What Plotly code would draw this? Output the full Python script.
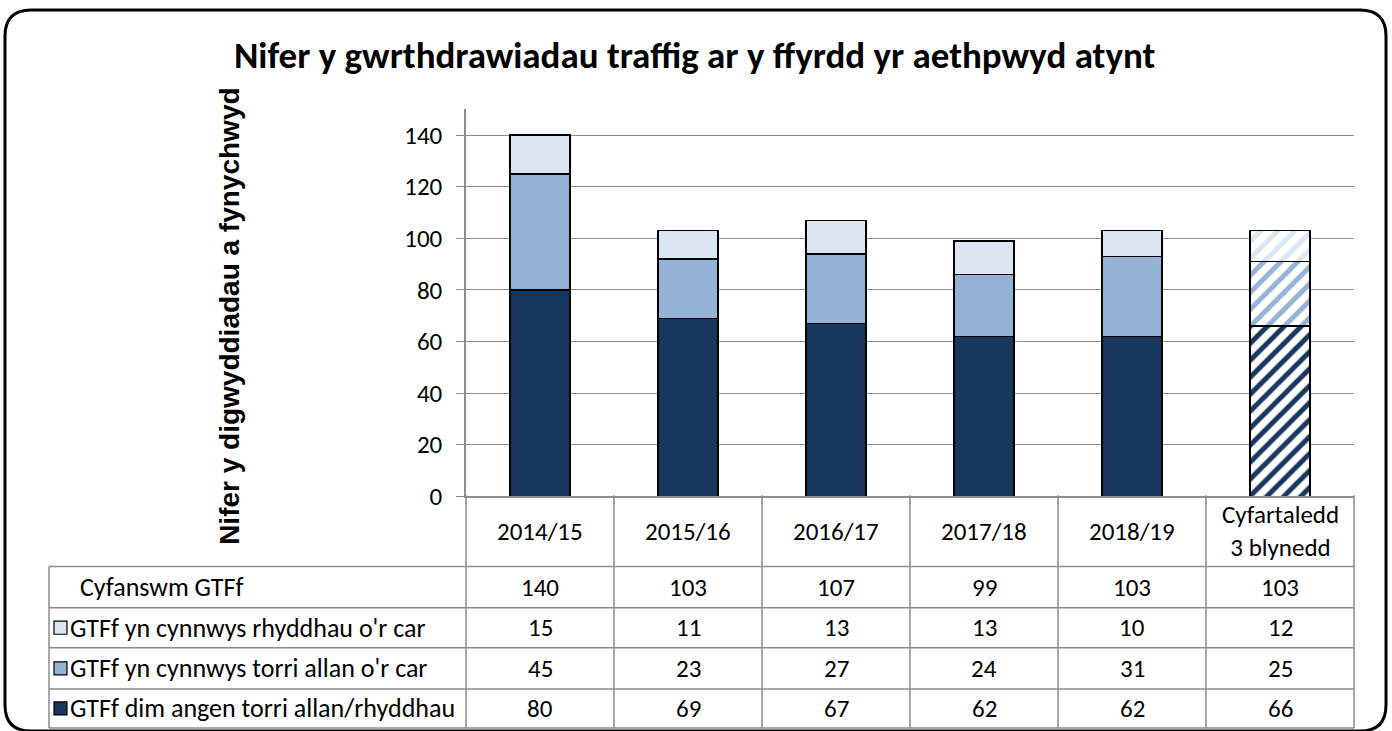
import plotly.graph_objects as go

W, H = 1392, 731
FIG_H = 749  # rendered page is squeezed vertically to fit the window

categories = ["2014/15", "2015/16", "2016/17", "2017/18", "2018/19", "Cyfartaledd 3 blynedd"]
cat_labels = ["2014/15", "2015/16", "2016/17", "2017/18", "2018/19", "Cyfartaledd<br>3 blynedd"]
total = [140, 103, 107, 99, 103, 103]
rhyddhau = [15, 11, 13, 13, 10, 12]
torri = [45, 23, 27, 24, 31, 25]
dim_angen = [80, 69, 67, 62, 62, 66]

series = [
    ("GTFf dim angen torri allan/rhyddhau", dim_angen, "#17375E"),
    ("GTFf yn cynnwys torri allan o'r car", torri, "#95B3D7"),
    ("GTFf yn cynnwys rhyddhau o'r car", rhyddhau, "#DCE6F2"),
]

BODY_FONT = "Calibri, Carlito, Lato, sans-serif"
GRID = "#8c8c8c"
FS = 25


def px(x):
    return x / W


def py(y):
    return 1 - y / H


# plot area / table geometry in pixels
X0, X1 = 466, 1354
Y_TOP, Y_ZERO = 109, 495
TBL_LEFT = 49
ROW_Y = [565, 606, 646, 687, 726]
col_w = (X1 - X0) / len(categories)

fig = go.Figure()

for name, vals, color in series:
    n = len(vals)
    fig.add_trace(go.Bar(
        x=categories, y=vals, name=name,
        marker=dict(
            color=color,
            line=dict(color="black", width=1.5),
            pattern=dict(shape=[""] * (n - 1) + ["/"],
                         fgcolor=color, bgcolor="white",
                         size=12, solidity=0.42, fillmode="replace"),
        ),
        showlegend=False,
        hoverinfo="skip",
    ))

fig.update_layout(
    width=W, height=FIG_H,
    autosize=False,
    margin=dict(l=0, r=0, t=0, b=0),
    barmode="stack",
    bargap=0.595,
    plot_bgcolor="white",
    paper_bgcolor="white",
    font=dict(family=BODY_FONT, size=FS, color="black"),
    xaxis=dict(domain=[px(X0), px(X1)], range=[-0.5, 5.5],
               showticklabels=False, ticks="", showgrid=False,
               showline=True, linecolor=GRID, linewidth=1.5, fixedrange=True),
    yaxis=dict(domain=[py(Y_ZERO), py(Y_TOP)], range=[0, 150],
               tickvals=[0, 20, 40, 60, 80, 100, 120, 140],
               showgrid=True, gridcolor=GRID, gridwidth=1.3,
               showline=True, linecolor=GRID, linewidth=1.5,
               ticks="outside", ticklen=8, tickcolor=GRID, tickwidth=1.3,
               ticklabelstandoff=9,
               tickfont=dict(size=FS), zeroline=False, fixedrange=True),
)

shapes = []
annotations = []

# title and y-axis title
annotations.append(dict(text="<b>Nifer y gwrthdrawiadau traffig ar y ffyrdd yr aethpwyd atynt</b>",
                        x=px(694), y=py(55), xref="paper", yref="paper", showarrow=False,
                        font=dict(size=37), xanchor="center", yanchor="middle"))
annotations.append(dict(text="<b>Nifer y digwyddiadau a fynychwyd</b>",
                        x=px(230), y=py(316), xref="paper", yref="paper", showarrow=False,
                        textangle=-90, font=dict(family="Liberation Sans, Arial, sans-serif", size=28),
                        xanchor="center", yanchor="middle"))

# table grid
line = dict(color=GRID, width=1.5)
for k in range(len(categories) + 1):
    xx = X0 + k * col_w
    shapes.append(dict(type="line", xref="paper", yref="paper",
                       x0=px(xx), x1=px(xx), y0=py(Y_ZERO - 1), y1=py(ROW_Y[-1]), line=line))
shapes.append(dict(type="line", xref="paper", yref="paper",
                   x0=px(TBL_LEFT), x1=px(TBL_LEFT), y0=py(ROW_Y[0]), y1=py(ROW_Y[-1]), line=line))
for yy in ROW_Y:
    shapes.append(dict(type="line", xref="paper", yref="paper",
                       x0=px(TBL_LEFT), x1=px(X1), y0=py(yy), y1=py(yy), line=line))

# header labels
for i, lab in enumerate(cat_labels):
    annotations.append(dict(text=lab, x=px(X0 + (i + 0.5) * col_w), y=py((Y_ZERO + ROW_Y[0]) / 2),
                            xref="paper", yref="paper", showarrow=False,
                            xanchor="center", yanchor="middle", font=dict(size=FS)))

# table rows
rows = [("Cyfanswm GTFf", total, None)] + [(n, v, c) for n, v, c in reversed(series)]
for r, (name, vals, color) in enumerate(rows):
    yc = (ROW_Y[r] + ROW_Y[r + 1]) / 2
    if color is None:
        annotations.append(dict(text=name, x=px(78), y=py(yc), xref="paper", yref="paper",
                                showarrow=False, xanchor="left", yanchor="middle", font=dict(size=26)))
    else:
        shapes.append(dict(type="rect", xref="paper", yref="paper",
                           x0=px(54), x1=px(67), y0=py(yc + 6.5), y1=py(yc - 6.5),
                           fillcolor=color, line=dict(color="black", width=1.2)))
        annotations.append(dict(text=name, x=px(68), y=py(yc), xref="paper", yref="paper",
                                showarrow=False, xanchor="left", yanchor="middle", font=dict(size=26)))
    for i, v in enumerate(vals):
        annotations.append(dict(text=str(v), x=px(X0 + (i + 0.5) * col_w), y=py(yc),
                                xref="paper", yref="paper", showarrow=False,
                                xanchor="center", yanchor="middle", font=dict(size=FS)))

# rounded outer border
L, T, R, B, rad = 5, 10, 1386, 729, 26
path = (f"M {px(L + rad)},{py(T)} L {px(R - rad)},{py(T)} "
        f"Q {px(R)},{py(T)} {px(R)},{py(T + rad)} L {px(R)},{py(B - rad)} "
        f"Q {px(R)},{py(B)} {px(R - rad)},{py(B)} L {px(L + rad)},{py(B)} "
        f"Q {px(L)},{py(B)} {px(L)},{py(B - rad)} L {px(L)},{py(T + rad)} "
        f"Q {px(L)},{py(T)} {px(L + rad)},{py(T)} Z")
shapes.append(dict(type="path", xref="paper", yref="paper", path=path,
                   line=dict(color="black", width=3)))

fig.update_layout(shapes=shapes, annotations=annotations)

fig.write_html("out.html",
               config={"responsive": False, "displayModeBar": False},
               post_script="document.body.style.margin='0px';"
                           "document.body.style.overflow='hidden';")
